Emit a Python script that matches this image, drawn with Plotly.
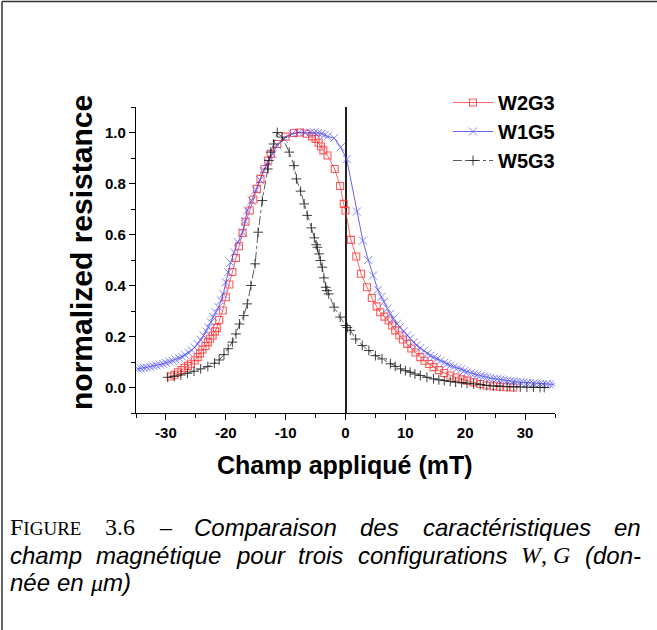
import plotly.graph_objects as go

# ---------------- data ----------------
w2g3_x = [-29.2, -28.6, -28.0, -27.4, -26.9, -26.3, -25.8, -25.2, -24.7, -24.3, -23.9, -23.4,
          -23.0, -22.6, -22.2, -21.8, -21.5, -21.1, -20.5, -20.0, -19.4, -18.9, -18.3, -17.8,
          -17.2, -16.7, -16.0, -15.4, -14.8, -14.2, -13.5, -12.9, -12.5, -11.4, -10.0, -8.6,
          -7.6, -6.5, -5.6, -5.0, -4.5, -4.1, -3.7, -3.0, -1.8, -0.9, -0.3, 0.0,
          0.9, 1.8, 2.6, 3.6, 4.4, 5.2, 5.8, 6.5, 7.2, 7.8, 8.3, 9.0,
          9.6, 10.3, 11.0, 11.7, 12.5, 13.2, 14.0, 14.7, 15.6, 16.5, 17.5, 18.5,
          19.4, 20.3, 21.4, 22.5, 23.6, 24.7, 25.8, 26.9, 28.0]
w2g3_y = [0.043, 0.050, 0.060, 0.068, 0.077, 0.085, 0.093, 0.106, 0.119, 0.134, 0.149, 0.163,
          0.178, 0.191, 0.204, 0.220, 0.234, 0.265, 0.302, 0.354, 0.404, 0.453, 0.508, 0.554,
          0.606, 0.650, 0.694, 0.737, 0.779, 0.818, 0.857, 0.890, 0.916, 0.955, 0.984, 0.998,
          1.000, 0.995, 0.985, 0.975, 0.960, 0.945, 0.930, 0.910, 0.857, 0.790, 0.720, 0.694,
          0.579, 0.514, 0.446, 0.393, 0.351, 0.318, 0.295, 0.278, 0.263, 0.243, 0.224, 0.205,
          0.188, 0.171, 0.153, 0.137, 0.119, 0.105, 0.092, 0.080, 0.068, 0.057, 0.047, 0.039,
          0.032, 0.027, 0.020, 0.014, 0.008, 0.005, 0.003, 0.001, 0.000]

w1g5_x = [-34.7, -34.2, -33.7, -33.2, -32.6, -32.1, -31.6, -31.0, -30.5, -30.0, -29.4, -28.9,
          -28.4, -27.8, -27.3, -26.8, -26.2, -25.7, -25.2, -24.7, -24.2, -23.7, -23.3, -22.9,
          -22.5, -22.1, -21.7, -21.2, -20.8, -20.4, -20.0, -19.6, -19.2, -18.6, -18.0, -17.2,
          -16.8, -16.4, -15.7, -15.0, -14.3, -13.7, -13.0, -12.2, -11.4, -10.3, -8.9, -7.8,
          -6.8, -5.9, -5.2, -4.6, -4.0, -3.5, -3.0, -1.9, -0.8, 0.2,
          1.9, 2.9, 3.8, 4.6, 5.4, 6.0, 6.4, 7.0, 7.5, 8.0, 8.6, 9.1, 9.7, 10.3,
          10.8, 11.4, 11.9, 12.5, 13.1, 13.7, 14.2, 14.7, 15.3, 15.9, 16.5, 17.0,
          17.5, 18.1, 18.7, 19.3, 19.8, 20.3, 20.9, 21.5, 22.0, 22.6, 23.1, 23.6,
          24.2, 24.8, 25.3, 25.9, 26.4, 27.0, 27.5, 28.1, 28.6, 29.2, 29.7, 30.3,
          30.8, 31.4, 31.9, 32.5, 33.0, 33.6, 34.1, 34.7]
w1g5_y = [0.073, 0.075, 0.077, 0.079, 0.081, 0.084, 0.087, 0.090, 0.093, 0.097, 0.101, 0.105,
          0.110, 0.115, 0.121, 0.128, 0.136, 0.146, 0.157, 0.171, 0.187, 0.204, 0.220, 0.236,
          0.256, 0.276, 0.295, 0.315, 0.341, 0.367, 0.413, 0.452, 0.490, 0.530, 0.570, 0.609,
          0.652, 0.694, 0.733, 0.775, 0.814, 0.850, 0.884, 0.916, 0.949, 0.975, 0.995, 1.000,
          1.000, 1.000, 1.000, 0.998, 0.995, 0.990, 0.985, 0.978, 0.942, 0.896,
          0.690, 0.576, 0.500, 0.439, 0.383, 0.355, 0.335, 0.310, 0.289, 0.270, 0.250, 0.237, 0.221, 0.204,
          0.193, 0.178, 0.165, 0.155, 0.144, 0.133, 0.125, 0.119, 0.112, 0.105, 0.098, 0.092,
          0.086, 0.081, 0.076, 0.071, 0.065, 0.060, 0.056, 0.053, 0.050, 0.046, 0.043, 0.040,
          0.037, 0.035, 0.033, 0.031, 0.029, 0.027, 0.025, 0.024, 0.022, 0.021, 0.020, 0.018,
          0.017, 0.016, 0.015, 0.014, 0.013, 0.013, 0.012, 0.012]

w5g3_x = [-29.7, -28.6, -27.5, -26.4, -25.3, -24.2, -23.0, -21.9, -21.1, -20.3, -19.6, -18.9,
          -18.3, -17.7, -17.0, -16.4, -15.8, -15.1, -14.6, -13.9, -13.0, -12.8, -12.5, -12.0,
          -11.4, -10.6, -9.4, -8.6, -8.2, -7.5, -6.9, -6.4, -5.7, -5.2, -4.9, -4.7,
          -4.4, -4.2, -3.9, -3.6, -3.3, -3.1, -2.8, -1.9, -0.9, 0.0, 0.3, 0.8,
          1.7, 2.8, 3.9, 5.0, 6.1, 7.5, 8.3, 9.2, 10.0, 10.8, 11.6, 12.5,
          13.6, 14.7, 15.6, 16.5, 17.5, 18.4, 19.4, 20.3, 21.4, 22.5, 23.6, 24.7,
          25.8, 27.0, 28.1, 29.2, 30.3, 31.4, 32.5, 33.2]
w5g3_y = [0.040, 0.044, 0.049, 0.056, 0.064, 0.073, 0.082, 0.095, 0.108, 0.129, 0.152, 0.178,
          0.210, 0.249, 0.282, 0.328, 0.400, 0.485, 0.609, 0.733, 0.857, 0.890, 0.923, 0.955,
          1.000, 0.982, 0.923, 0.870, 0.818, 0.770, 0.720, 0.675, 0.626, 0.587, 0.560, 0.550,
          0.524, 0.498, 0.472, 0.430, 0.393, 0.380, 0.367, 0.315, 0.276, 0.243, 0.235, 0.224,
          0.190, 0.165, 0.145, 0.125, 0.112, 0.093, 0.083, 0.073, 0.066, 0.060, 0.053, 0.047,
          0.040, 0.034, 0.030, 0.027, 0.024, 0.021, 0.019, 0.017, 0.014, 0.011, 0.008, 0.006,
          0.005, 0.004, 0.003, 0.002, 0.001, 0.001, 0.000, 0.000]

x_ticks = [-30, -20, -10, 0, 10, 20, 30]
x_tick_labels = ["-30", "-20", "-10", "0", "10", "20", "30"]
y_ticks = [0.0, 0.2, 0.4, 0.6, 0.8, 1.0]
y_tick_labels = ["0.0", "0.2", "0.4", "0.6", "0.8", "1.0"]

caption_lines = [
    ["FIGURE", "3.6", "–", "Comparaison", "des", "caractéristiques", "en"],
    ["champ", "magnétique", "pour", "trois", "configurations", "W,G", "(don-"],
    ["née", "en", "μm)"],
]

# ---------------- figure ----------------
W, H = 657, 630
L, R, T, B = 136, 102, 107, 217
PW, PH = W - L - R, H - T - B

def px(xp):
    return (xp - L) / PW

def py(yp):
    return (H - B - yp) / PH

fig = go.Figure()
fig.add_trace(go.Scatter(
    x=w2g3_x, y=w2g3_y, mode="lines+markers", name="<b>W2G3</b>",
    line=dict(color="rgba(255,40,40,0.9)", width=0.8),
    marker=dict(symbol="square-open", size=7, color="rgba(255,50,50,0.8)", line=dict(width=1.1)),
))
fig.add_trace(go.Scatter(
    x=w1g5_x, y=w1g5_y, mode="lines+markers", name="<b>W1G5</b>",
    line=dict(color="rgba(40,40,230,0.9)", width=0.8),
    marker=dict(symbol="x-thin-open", size=8, color="rgba(90,90,255,0.75)",
                line=dict(width=1.0, color="rgba(90,90,255,0.75)")),
))
fig.add_trace(go.Scatter(
    x=w5g3_x, y=w5g3_y, mode="lines+markers", name="<b>W5G3</b>",
    line=dict(color="rgba(30,30,30,0.9)", width=0.8, dash="dashdot"),
    marker=dict(symbol="cross-thin-open", size=7, color="rgba(30,30,30,0.85)",
                line=dict(width=1.0, color="rgba(30,30,30,0.85)")),
))

tickfont = dict(family="Liberation Sans", size=15, color="black", weight="bold")
fig.update_xaxes(
    range=[-35, 35], tickvals=x_ticks, ticktext=x_tick_labels,
    showline=True, linecolor="black", linewidth=1.3, mirror=False,
    ticks="outside", ticklen=6, tickwidth=1.2, tickcolor="black",
    minor=dict(dtick=5, ticks="outside", ticklen=4, tickwidth=1.2, tickcolor="black", tick0=0),
    showgrid=False, zeroline=True, zerolinecolor="#222", zerolinewidth=1.5,
    tickfont=tickfont,
)
fig.update_yaxes(
    range=[-0.1, 1.1], tickvals=y_ticks, ticktext=y_tick_labels,
    showline=True, linecolor="black", linewidth=1.3, mirror=False,
    ticks="outside", ticklen=6, tickwidth=1.2, tickcolor="black",
    minor=dict(dtick=0.1, ticks="outside", ticklen=4, tickwidth=1.2, tickcolor="black", tick0=0),
    showgrid=False, zeroline=False,
    tickfont=tickfont,
)

annotations = [
    dict(text="<b>Champ appliqué (mT)</b>", x=px(345), y=py(465), xref="paper", yref="paper",
         showarrow=False, xanchor="center", yanchor="middle",
         font=dict(family="Liberation Sans", size=25, color="black")),
    dict(text="<b>normalized resistance</b>", x=px(81), y=py(253), xref="paper", yref="paper",
         showarrow=False, xanchor="center", yanchor="middle", textangle=-90,
         font=dict(family="Liberation Sans", size=30, color="black")),
]

# ---- caption, justified word by word ----
serif = "Liberation Serif"
sans = "Liberation Sans"
CS = 24          # caption font size
SC = 19          # small-caps size
# Helvetica / Times advance widths (per em) for width estimation
HW = {'a': .556, 'c': .5, 'd': .556, 'e': .556, 'é': .556, 'f': .278, 'g': .556, 'h': .556,
      'i': .222, 'm': .833, 'n': .556, 'o': .556, 'p': .556, 'q': .556, 'r': .333, 's': .5,
      't': .278, 'u': .556, 'C': .722, '(': .333, ')': .333, '-': .333}

def sans_w(word):
    return sum(HW.get(ch, .556) for ch in word) * CS

def render(word):
    if word == "FIGURE":
        return ("<span style='font-family:%s'>F<span style='font-size:%dpx'>IGURE</span></span>"
                % (serif, SC)), .556 * CS + (.333 + .722 + .722 + .667 + .611) * SC
    if word in ("3.6", "–"):
        return "<span style='font-family:%s'>%s</span>" % (serif, word), \
            (1.25 if word == "3.6" else .5) * CS
    if word == "W,G":
        return "<span style='font-family:%s'><i>W</i>, <i>G</i></span>" % serif, 2.055 * CS
    if word == "μm)":
        return ("<span style='font-family:%s'><i>μ</i></span><i>m)</i>" % serif), \
            (.5 + .833 + .333) * CS
    return "<i>%s</i>" % word, sans_w(word)

X_LEFT, X_RIGHT = 9, 640
line_y = [527, 555, 582]
for li, words in enumerate(caption_lines):
    items = [render(w) for w in words]
    total = sum(w for _, w in items)
    if li < len(caption_lines) - 1:
        gap = (X_RIGHT - X_LEFT - total) / (len(items) - 1)
    else:
        gap = .278 * CS
    xcur = X_LEFT
    for txt, wdt in items:
        annotations.append(dict(
            text=txt, x=px(xcur), y=py(line_y[li]), xref="paper", yref="paper", showarrow=False,
            xanchor="left", yanchor="middle", borderpad=0,
            font=dict(family=sans, size=CS, color="black"),
        ))
        xcur += wdt + gap

shapes = [
    dict(type="line", xref="paper", yref="paper", x0=px(2), x1=px(2), y0=py(1.5), y1=py(630),
         line=dict(color="#333", width=1.5)),
    dict(type="line", xref="paper", yref="paper", x0=px(2), x1=px(657), y0=py(1.5), y1=py(1.5),
         line=dict(color="#333", width=1.5)),
]

fig.update_layout(
    width=W, height=H,
    margin=dict(l=L, r=R, t=T, b=B, autoexpand=False),
    paper_bgcolor="white", plot_bgcolor="white",
    showlegend=True,
    legend=dict(x=px(448), y=py(83), xanchor="left", yanchor="top",
                font=dict(family="Liberation Sans", size=20, color="black"),
                bgcolor="rgba(0,0,0,0)", itemwidth=40, tracegroupgap=0),
    annotations=annotations,
    shapes=shapes,
)

fig.write_html("out.html", config={"displayModeBar": False},
               post_script="document.body.style.margin='0px';")
